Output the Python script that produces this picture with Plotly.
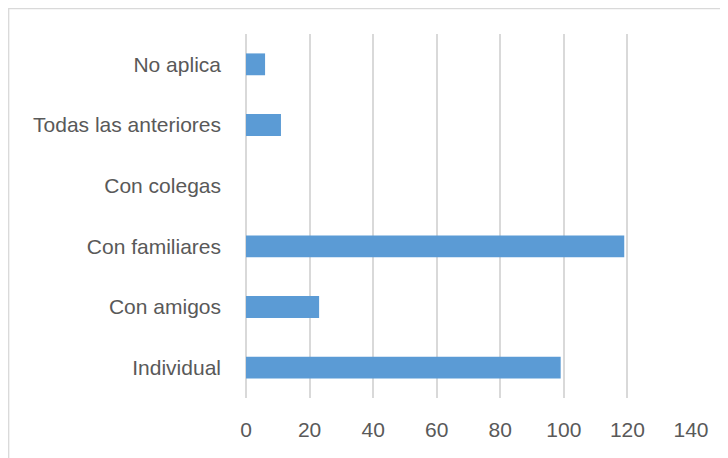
import plotly.graph_objects as go

categories = ["Individual", "Con amigos", "Con familiares", "Con colegas", "Todas las anteriores", "No aplica"]
values = [99, 23, 119, 0, 11, 6]
tick_vals = [0, 20, 40, 60, 80, 100, 120, 140]

# page has an 8px body margin; figure drawn in a 720x450 box
OFF = 8
W, H = 728 - OFF, 458 - OFF
L, R, T, B = 246 - OFF, 691 - OFF, 34 - OFF, 398 - OFF

fig = go.Figure(go.Bar(
    y=categories, x=values, orientation="h",
    marker=dict(color="#5b9bd5", line=dict(width=0)),
    width=0.36,
))

def px_x(p):
    return (p - L) / (R - L)

def px_y(p):
    return (B - p) / (B - T)

fig.add_shape(type="rect", xref="paper", yref="paper",
              x0=px_x(0.7), x1=px_x(760), y0=px_y(480), y1=px_y(0.7),
              line=dict(color="#d9d9d9", width=1.3), fillcolor="rgba(0,0,0,0)", layer="below")

fig.update_layout(
    width=W, height=H,
    margin=dict(l=L, r=W - R, t=T, b=H - B, pad=0),
    paper_bgcolor="white", plot_bgcolor="white",
    showlegend=False,
    font=dict(family="Liberation Sans, Arial, sans-serif", size=21, color="#595959"),
    xaxis=dict(range=[0, 140], tickvals=tick_vals, showgrid=True, gridcolor="#d9d9d9", gridwidth=1.5,
               zeroline=True, zerolinecolor="#d9d9d9", zerolinewidth=1.5, showline=False,
               ticks="", ticklen=0, fixedrange=True),
    yaxis=dict(categoryorder="array", categoryarray=categories, showgrid=False, zeroline=False,
               showline=False, ticks="", fixedrange=True),
)
fig.update_xaxes(ticklabelstandoff=17)
fig.update_yaxes(ticklabelstandoff=24)

fig.write_html("out.html")
